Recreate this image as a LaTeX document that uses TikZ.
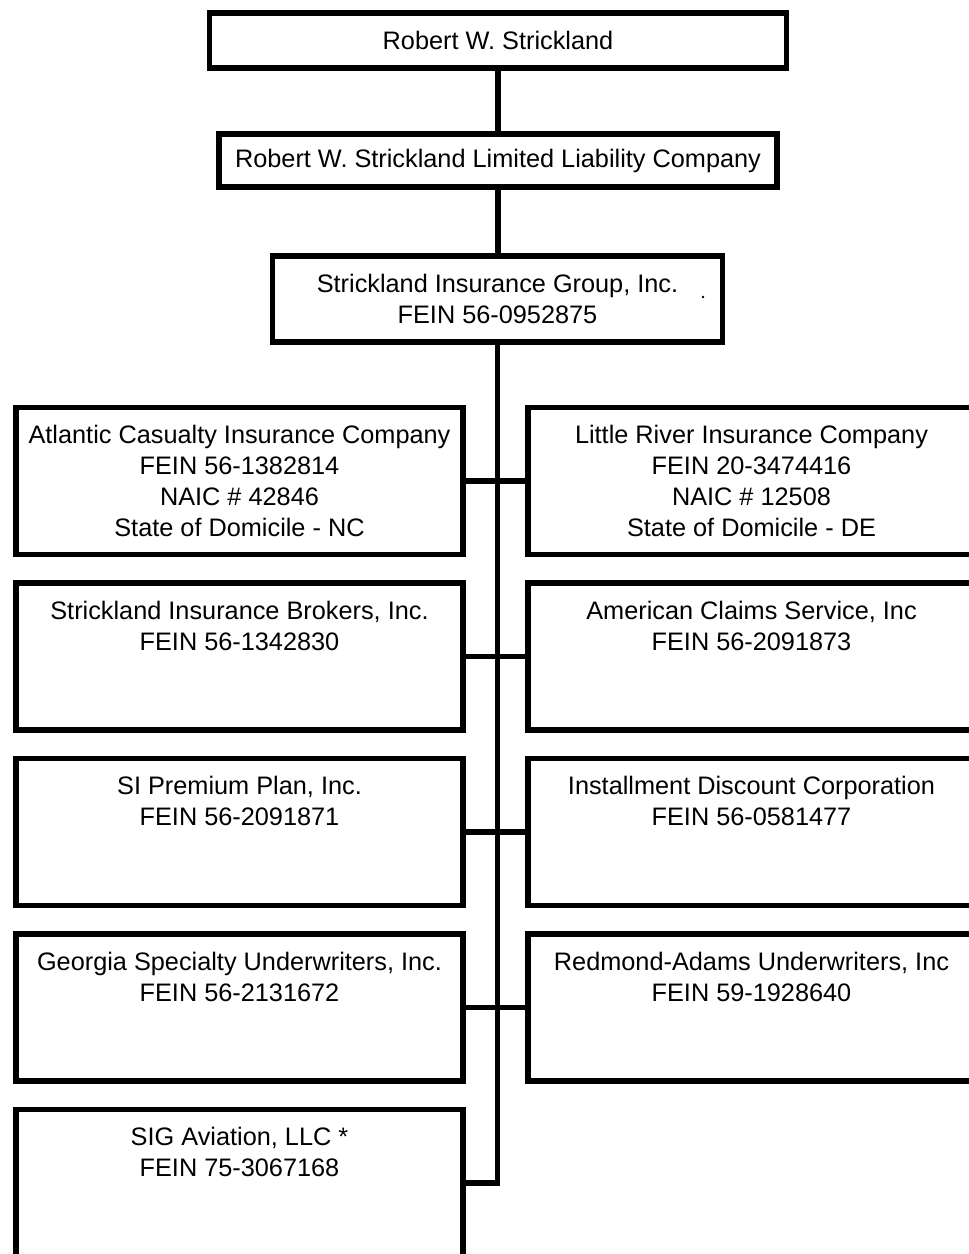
\documentclass[tikz,border=0pt]{standalone}
\usepackage{fontspec}
\setmainfont{Liberation Sans}
\usetikzlibrary{positioning}

\begin{document}
\begin{tikzpicture}[
  x=0.02cm, y=-0.02cm,
  every node/.style={font=\fontsize{14.4}{17.6}\selectfont},
  box/.style={rectangle, draw, line width=3pt, align=center, inner sep=0pt},
  unit/.style={box, minimum width=447*0.02cm, minimum height=147*0.02cm},
  link/.style={line width=3pt}
]
\useasboundingbox (0,0) rectangle (969,1254);
\clip (0,0) rectangle (969,1254);

\node[box, minimum width=577*0.02cm, minimum height=55*0.02cm] (owner) at (498,40.5) {Robert W. Strickland};
\node[box, minimum width=558*0.02cm, minimum height=53*0.02cm] (llc) at (498,160.5) {Robert W. Strickland Limited Liability Company};
\node[box, minimum width=450*0.02cm, minimum height=86*0.02cm] (group) at (497.5,299) {Strickland Insurance Group, Inc.\\FEIN 56-0952875};
\fill (703,297) circle (0.8pt);

% left column
\node[unit] (atlantic) at (239.5,481) {Atlantic Casualty Insurance Company\\FEIN 56-1382814\\NAIC \# 42846\\State of Domicile - NC};
\node[unit] (brokers) at (239.5,656.5) {Strickland Insurance Brokers, Inc.\\FEIN 56-1342830\\~\\~};
\node[unit] (premium) at (239.5,832) {SI Premium Plan, Inc.\\FEIN 56-2091871\\~\\~};
\node[unit] (georgia) at (239.5,1007.5) {Georgia Specialty Underwriters, Inc.\\FEIN 56-2131672\\~\\~};
\node[unit] (aviation) at (239.5,1183) {SIG Aviation, LLC *\\FEIN 75-3067168\\~\\~};

% right column
\node[unit] (littleriver) at (751.5,481) {Little River Insurance Company\\FEIN 20-3474416\\NAIC \# 12508\\State of Domicile - DE};
\node[unit] (claims) at (751.5,656.5) {American Claims Service, Inc\\FEIN 56-2091873\\~\\~};
\node[unit] (installment) at (751.5,832) {Installment Discount Corporation\\FEIN 56-0581477\\~\\~};
\node[unit] (redmond) at (751.5,1007.5) {Redmond-Adams Underwriters, Inc\\FEIN 59-1928640\\~\\~};

\draw[link] (owner) -- (llc);
\draw[link] (llc.south) -- (llc.south |- group.north);
\draw[link] (group.south) |- (aviation.east);
\draw[link] (atlantic) -- (littleriver);
\draw[link] (brokers) -- (claims);
\draw[link] (premium) -- (installment);
\draw[link] (georgia) -- (redmond);

\end{tikzpicture}
\end{document}
